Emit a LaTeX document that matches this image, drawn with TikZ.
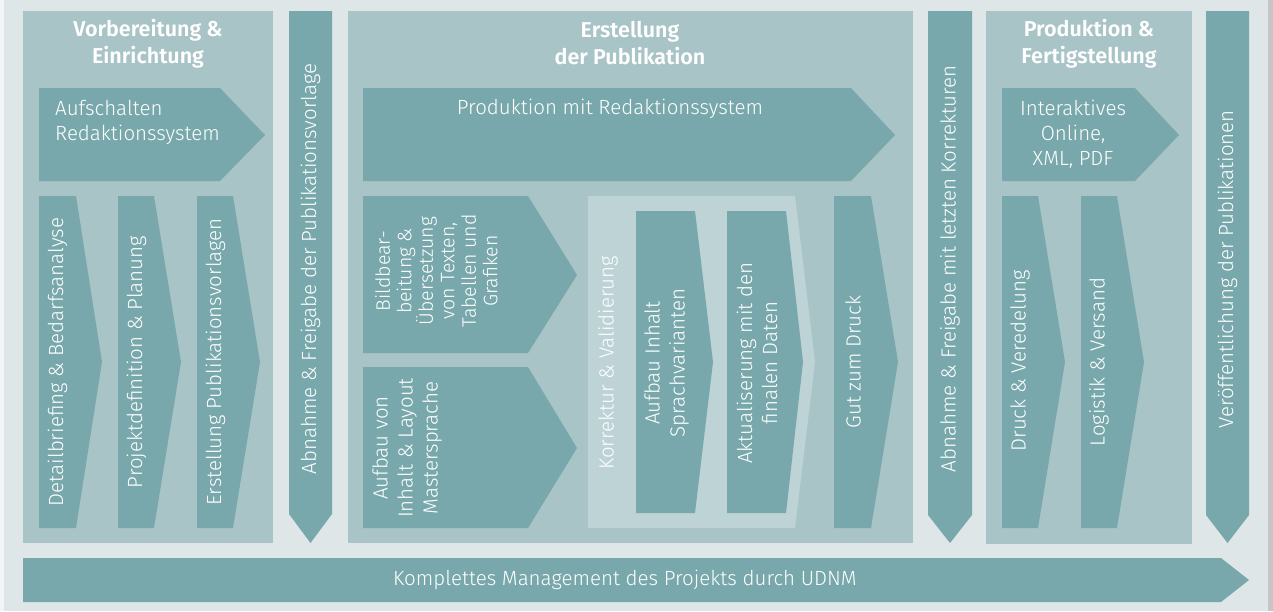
\documentclass[tikz,border=0pt]{standalone}
\usepackage{fontspec}
\setmainfont{Fira Sans Light}[BoldFont={Fira Sans SemiBold}]

\definecolor{bgcol}{HTML}{DEE6E8}
\definecolor{panelcol}{HTML}{A9C4C7}
\definecolor{stepcol}{HTML}{78A8AC}
\definecolor{checkcol}{HTML}{BDD3D6}

\tikzset{
  panel/.style={fill=panelcol},
  stepshape/.style={fill=stepcol},
  txt/.style={text=white, inner sep=0pt, align=center, font=\fontsize{20.5}{25}\selectfont},
  smalltxt/.style={txt, font=\fontsize{19.5}{21.5}\selectfont},
  vtxt/.style={txt, rotate=90},
  ttl/.style={text=white, inner sep=0pt, align=center, font=\bfseries\fontsize{21.5}{27}\selectfont}
}

\begin{document}
\begin{tikzpicture}[x=1pt,y=-1pt]
\useasboundingbox (0,0) rectangle (1273,611);

%draw the background
\fill[white!60!bgcol] (0,0) rectangle (1273,611);
\fill[bgcol] (4,0) rectangle (1268,611);
\fill[gray!45] (1268,0) rectangle (1273,611);

%draw the three phase panels
\fill[panel] (23,11) rectangle (273,543);
\fill[panel] (348,11) rectangle (913,543);
\fill[panel] (986,11) rectangle (1192,544);

%phase 1: Vorbereitung
\node[ttl] (ttlprep) at (148,43.5) {Vorbereitung \&\\Einrichtung};
\fill[stepshape] (39,88) -- (220,88) -- (265,135) -- (220,181) -- (39,181) -- cycle;
\node[txt, anchor=west, align=left] (aufschalten) at (55,122) {Aufschalten\\Redaktionssystem};

\fill[stepshape] (39,196) -- (76,196) -- (102,362) -- (76,528) -- (39,528) -- cycle;
\fill[stepshape] (118,196) -- (154,196) -- (181,362) -- (154,528) -- (118,528) -- cycle;
\fill[stepshape] (197,196) -- (233,196) -- (260,362) -- (233,528) -- (197,528) -- cycle;
\node[vtxt] (detail) at (57.5,362) {Detailbriefing \& Bedarfsanalyse};
\node[vtxt] (projekt) at (136.5,362) {Projektdefinition \& Planung};
\node[vtxt] (vorlagen) at (215.5,362) {Erstellung Publikationsvorlagen};

%first approval
\fill[stepshape] (289,11) -- (332,11) -- (332,514) -- (310.5,543) -- (289,514) -- cycle;
\node[vtxt] (abnahmeone) at (310.5,269) {Abnahme \& Freigabe der Publikationsvorlage};

%phase 2: Erstellung
\node[ttl] (ttlcreate) at (630,43.5) {Erstellung\\der Publikation};
\fill[stepshape] (363,88) -- (851,88) -- (895,135) -- (851,181) -- (363,181) -- cycle;
\node[txt] (produktion) at (610,109) {Produktion mit Redaktionssystem};

\fill[stepshape] (363,196) -- (528,196) -- (577,275) -- (528,353) -- (363,353) -- cycle;
\node[smalltxt, rotate=90] (bild) at (436.5,271) {Bildbear-\\beitung \&\\Übersetzung\\von Texten,\\Tabellen und\\Grafiken};
\fill[stepshape] (363,367) -- (528,367) -- (577,448) -- (528,528) -- (363,528) -- cycle;
\node[vtxt] (aufbau) at (407,448) {Aufbau von\\Inhalt \& Layout\\Mastersprache};

\fill[checkcol] (588,196) -- (795,196) -- (815,362) -- (795,528) -- (588,528) -- cycle;
\node[vtxt] (korrektur) at (608,363) {Korrektur \& Validierung};
\fill[stepshape] (636,211) -- (695,211) -- (713,362) -- (695,513) -- (636,513) -- cycle;
\fill[stepshape] (727,211) -- (786,211) -- (803,362) -- (786,513) -- (727,513) -- cycle;
\node[vtxt] (sprach) at (666.5,363) {Aufbau Inhalt\\Sprachvarianten};
\node[vtxt] (aktual) at (757,363) {Aktualiserung mit den\\finalen Daten};

\fill[stepshape] (834,196) -- (871,196) -- (898,362) -- (871,528) -- (834,528) -- cycle;
\node[vtxt] (gzd) at (853,362) {Gut zum Druck};

%second approval
\fill[stepshape] (928,11) -- (972,11) -- (972,515) -- (950,543) -- (928,515) -- cycle;
\node[vtxt] (abnahmetwo) at (950,269) {Abnahme \& Freigabe mit letzten Korrekturen};

%phase 3: Produktion
\node[ttl] (ttlprod) at (1089,43.5) {Produktion \&\\Fertigstellung};
\fill[stepshape] (1002,88) -- (1135,88) -- (1179,135) -- (1135,181) -- (1002,181) -- cycle;
\node[txt] (interaktiv) at (1073,134) {Interaktives\\Online,\\XML, PDF};

\fill[stepshape] (1002,196) -- (1038,196) -- (1065,362) -- (1038,528) -- (1002,528) -- cycle;
\fill[stepshape] (1081,196) -- (1117,196) -- (1144,362) -- (1117,528) -- (1081,528) -- cycle;
\node[vtxt] (druck) at (1020,361) {Druck \& Veredelung};
\node[vtxt] (logistik) at (1099,362) {Logistik \& Versand};

%publication
\fill[stepshape] (1206,11) -- (1249,11) -- (1249,515) -- (1227.5,543) -- (1206,515) -- cycle;
\node[vtxt] (veroeff) at (1227.5,269.5) {Veröffentlichung der Publikationen};

%management bar
\fill[stepshape] (23,558) -- (1221,558) -- (1249,580) -- (1221,602) -- (23,602) -- cycle;
\node[txt] (management) at (625,580) {Komplettes Management des Projekts durch UDNM};

\end{tikzpicture}
\end{document}
